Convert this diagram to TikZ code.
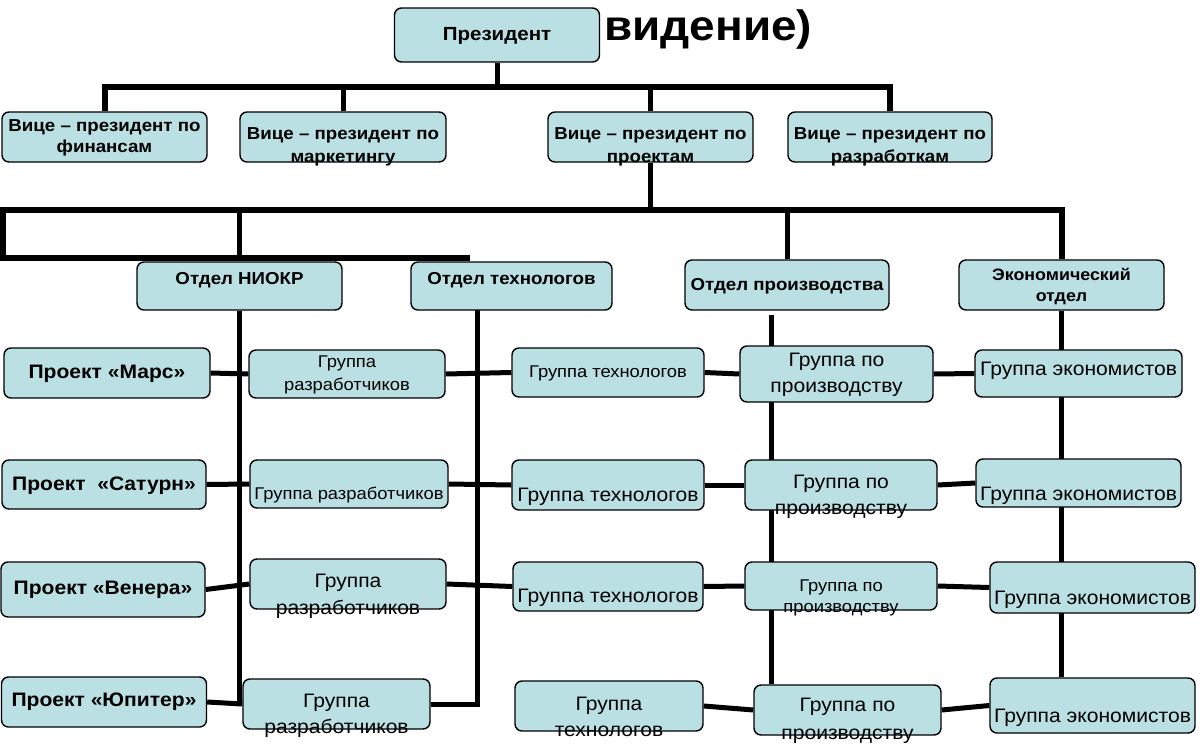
\documentclass[tikz,border=0pt]{standalone}
\usepackage{fontspec}
\setmainfont{Liberation Sans}[FakeStretch=1.08]
\usetikzlibrary{backgrounds}
\definecolor{boxfill}{RGB}{186,224,227}
\tikzset{
  box/.style={draw=black, line width=1.4pt, fill=boxfill, rounded corners=7pt, inner sep=0pt},
  link/.style={line width=5pt},
  bus/.style={line width=6pt},
  lbl/.style={inner sep=0pt, align=center},
  toptext/.style={lbl, font=\bfseries\fontsize{17.3}{21}\selectfont},
  projtext/.style={lbl, font=\bfseries\fontsize{19.5}{22}\selectfont},
  grptext/.style={lbl, font=\fontsize{19.5}{26}\selectfont},
  grpsmall/.style={lbl, font=\fontsize{17}{23}\selectfont}}

\begin{document}
\begin{tikzpicture}[x=1pt,y=-1pt]
\useasboundingbox (0,0) rectangle (1200,744);
% top
\node [lbl, anchor=base west, font=\bfseries\fontsize{42.5}{46}\selectfont] (title) at (604,40) {видение)};
\node [box, minimum width=205, minimum height=54] (pres) at (497,35) {};
\node [lbl, font=\bfseries\fontsize{19}{22}\selectfont] (prest) at (497,36) {Президент};
\node [box, minimum width=205, minimum height=50] (vpfin) at (104.5,137) {};
\node [toptext] (vpfint) at (104.5,137.5) {Вице – президент по\\финансам};
\node [box, minimum width=206, minimum height=50] (vpmkt) at (343,137) {};
\node [toptext, font=\bfseries\fontsize{17.3}{23}\selectfont] (vpmktt) at (343,146.5) {Вице – президент по\\маркетингу};
\node [box, minimum width=205, minimum height=50] (vpproj) at (650.5,137) {};
\node [toptext, font=\bfseries\fontsize{17.3}{23}\selectfont] (vpprojt) at (650.5,146.5) {Вице – президент по\\проектам};
\node [box, minimum width=204, minimum height=50] (vprazr) at (890,137) {};
\node [toptext, font=\bfseries\fontsize{17.3}{23}\selectfont] (vprazrt) at (890,146.5) {Вице – президент по\\разработкам};
% departments
\node [box, minimum width=205, minimum height=48] (otdniokr) at (239.5,286) {};
\node [toptext] (otdniokrt) at (239.5,280) {Отдел НИОКР};
\node [box, minimum width=201, minimum height=48] (otdtekh) at (511.5,286) {};
\node [toptext] (otdtekht) at (511.5,280) {Отдел технологов};
\node [box, minimum width=204, minimum height=50] (otdproizv) at (787,285) {};
\node [toptext] (otdproizvt) at (787,286) {Отдел производства};
\node [box, minimum width=205, minimum height=50] (otdekon) at (1061.5,285) {};
\node [toptext, font=\bfseries\fontsize{16.5}{21}\selectfont] (otdekont) at (1061.5,287) {Экономический\\отдел};
% row 1
\node [box, minimum width=206, minimum height=50] (mars) at (107,373) {};
\node [projtext] (marst) at (107,374) {Проект «Марс»};
\node [box, minimum width=196, minimum height=48] (grr1) at (347,374) {};
\node [grpsmall] (grr1t) at (347,375) {Группа\\разработчиков};
\node [box, minimum width=192, minimum height=49] (grt1) at (608,372.5) {};
\node [grpsmall] (grt1t) at (608,373) {Группа технологов};
\node [box, minimum width=193, minimum height=56] (grp1) at (836.5,374) {};
\node [grptext] (grp1t) at (836.5,375) {Группа по\\производству};
\node [box, minimum width=207, minimum height=47] (gre1) at (1078.5,373.5) {};
\node [grptext] (gre1t) at (1078.5,371) {Группа экономистов};
% row 2
\node [box, minimum width=204, minimum height=49] (sat) at (104,484.5) {};
\node [projtext] (satt) at (104,486) {Проект\ \ «Сатурн»};
\node [box, minimum width=198, minimum height=48] (grr2) at (349,484) {};
\node [grpsmall] (grr2t) at (349,495) {Группа разработчиков};
\node [box, minimum width=192, minimum height=50] (grt2) at (608,485) {};
\node [grptext] (grt2t) at (608,497) {Группа технологов};
\node [box, minimum width=192, minimum height=50] (grp2) at (841,485) {};
\node [grptext] (grp2t) at (841,496.5) {Группа по\\производству};
\node [box, minimum width=205, minimum height=48] (gre2) at (1078.5,483) {};
\node [grptext] (gre2t) at (1078.5,496) {Группа экономистов};
% row 3
\node [box, minimum width=204, minimum height=55] (ven) at (103,589.5) {};
\node [projtext] (vent) at (103,589.5) {Проект «Венера»};
\node [box, minimum width=196, minimum height=50] (grr3) at (348,584) {};
\node [grptext, font=\fontsize{19.5}{27}\selectfont] (grr3t) at (348,596.5) {Группа\\разработчиков};
\node [box, minimum width=190, minimum height=49] (grt3) at (608,586.5) {};
\node [grptext] (grt3t) at (608,598) {Группа технологов};
\node [box, minimum width=192, minimum height=48] (grp3) at (841,586) {};
\node [grpsmall, font=\fontsize{17}{21}\selectfont] (grp3t) at (841,597.5) {Группа по\\производству};
\node [box, minimum width=205, minimum height=51] (gre3) at (1092.5,587.5) {};
\node [grptext] (gre3t) at (1092.5,600) {Группа экономистов};
% row 4
\node [box, minimum width=205, minimum height=50] (jup) at (104,702) {};
\node [projtext] (jupt) at (104,702) {Проект «Юпитер»};
\node [box, minimum width=187, minimum height=50] (grr4) at (336.5,704) {};
\node [grptext] (grr4t) at (336.5,716) {Группа\\разработчиков};
\node [box, minimum width=188, minimum height=50] (grt4) at (609,706) {};
\node [grptext] (grt4t) at (609,717) {Группа\\технологов};
\node [box, minimum width=187, minimum height=50] (grp4) at (847.5,710) {};
\node [grptext, font=\fontsize{19.5}{28}\selectfont] (grp4t) at (847.5,721) {Группа по\\производству};
\node [box, minimum width=205, minimum height=55] (gre4) at (1092.5,705.5) {};
\node [grptext] (gre4t) at (1092.5,718) {Группа экономистов};

\coordinate (top) at (497,87);
\coordinate (mid) at (650.5,210);
\coordinate (leftend) at (2.5,258);
\coordinate (lowend) at (470,258);
\coordinate (tekhdrop) at (477,310);
\coordinate (proizvdrop) at (771,315);

\begin{scope}[on background layer]
\draw [link] (pres.south) -- (top);
\draw [bus] (vpfin.north) |- (top) -| (vprazr.north);
\draw [link] (vpmkt.north) -- (vpmkt.north |- top);
\draw [link] (vpproj.north) -- (vpproj.north |- top);
\draw [link] (vpproj.south) -- (mid);
\draw [bus] (lowend) -- (leftend) |- (mid) -| (otdekon.north);
\draw [link] (otdniokr.north) -- (otdniokr.north |- mid);
\draw [link] (otdproizv.north) -- (otdproizv.north |- mid);
% verticals
\draw [link] (otdniokr.south) -- (otdniokr.south |- jup.east);
\draw [link] (tekhdrop) |- (grr4.east);
\draw [link] (proizvdrop) -- (proizvdrop |- grp4.north);
\draw [link] (otdekon.south) -- (otdekon.south |- gre4.north);
% rows
\draw [link] (mars.east) -- (grr1.west);
\draw [link] (grr1.east) -- (grt1.west);
\draw [link] (grt1.east) -- (grp1.west);
\draw [link] (grp1.east) -- (gre1.west);
\draw [link] (sat.east) -- (grr2.west);
\draw [link] (grr2.east) -- (grt2.west);
\draw [link] (grt2.east) -- (grp2.west);
\draw [link] (grp2.east) -- (gre2.west);
\draw [link] (ven.east) -- (grr3.west);
\draw [link] (grr3.east) -- (grt3.west);
\draw [link] (grt3.east) -- (grp3.west);
\draw [link] (grp3.east) -- (gre3.west);
\draw [link] (jup.east) -- (grr4.west);
\draw [link] (grt4.east) -- (grp4.west);
\draw [link] (grp4.east) -- (gre4.west);
\end{scope}
\end{tikzpicture}
\end{document}
